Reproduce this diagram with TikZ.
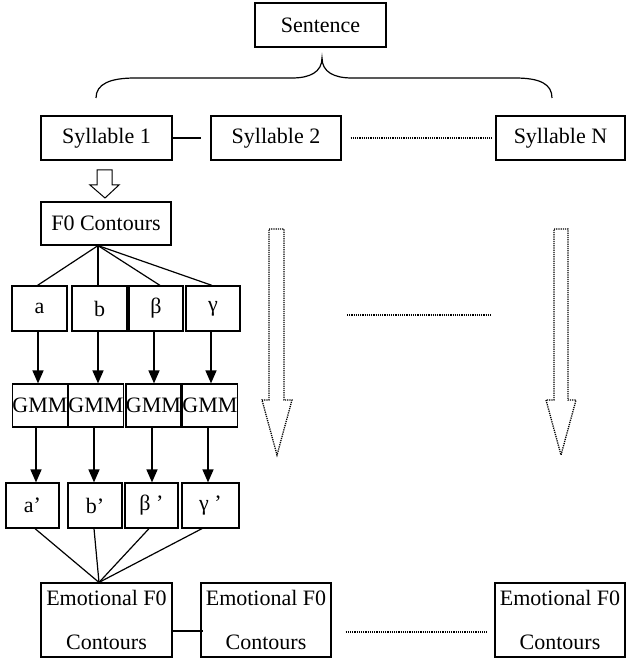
\documentclass[tikz,border=0pt]{standalone}
\usepackage{fontspec}
\setmainfont{Liberation Serif}
\usetikzlibrary{arrows.meta,calc}
\begin{document}
\begin{tikzpicture}[x=1pt,y=-1pt,
  box/.style={draw,line width=1.2pt,inner sep=0pt,font=\fontsize{22}{44}\selectfont,align=center},
  conn/.style={line width=1.2pt},
  arr/.style={line width=1.5pt,-{Triangle[length=13pt,width=11pt]}},
  dotline/.style={line width=1.3pt,dash pattern=on 1.2pt off 1pt},
  blockarrow/.style={line width=1pt,fill=white},
  dotarrow/.style={line width=1.3pt,dash pattern=on 1.2pt off 1pt},
]
\useasboundingbox (0,0) rectangle (625,660);

% top
\node[box,minimum width=131pt,minimum height=44pt] (sent) at (320.5,25) {Sentence};
\draw[conn] (96,98) .. controls (96,84) and (110,78) .. (135,78) -- (292,78)
  .. controls (310,78) and (322,72) .. (322,58)
  .. controls (322,72) and (334,78) .. (352,78) -- (515,78)
  .. controls (540,78) and (552,84) .. (552,98);

% syllables
\node[box,minimum width=131pt,minimum height=44pt] (syl1) at (106.5,138) {Syllable 1};
\node[box,minimum width=130pt,minimum height=44pt] (syl2) at (276,138) {Syllable 2};
\node[box,minimum width=129pt,minimum height=44pt] (sylN) at (560.5,138) {Syllable N};
\coordinate (s1end) at (201,138);
\draw[conn] (syl1.east) -- (s1end);
\draw[dotline,shorten <=9pt,shorten >=3pt] (syl2) -- (sylN);

% hollow arrow
\draw[blockarrow] (97,170) -- (112,170) -- (112,185) -- (119,185) -- (105,198) -- (90,185) -- (97,185) -- cycle;

\node[box,minimum width=130pt,minimum height=43pt] (f0) at (106,223.5) {F0 Contours};

% parameter boxes
\node[box,minimum width=55pt,minimum height=45pt] (a) at (39.5,308.5) {a};
\node[box,minimum width=55pt,minimum height=45pt] (b) at (99.5,308.5) {b};
\node[box,minimum width=54pt,minimum height=45pt] (be) at (156,308.5) {β};
\node[box,minimum width=54pt,minimum height=45pt] (ga) at (213,308.5) {γ};

\coordinate (f0s) at ([xshift=-8pt]f0.south);
\draw[conn] (f0s) -- ([xshift=-2pt]a.north);
\draw[conn] (f0s) -- ([xshift=-1.5pt]b.north);
\draw[conn] (f0s) -- ([xshift=4pt]be.north);
\draw[conn] (f0s) -- ([xshift=-1pt]ga.north);

% GMM boxes
\node[box,minimum width=54pt,minimum height=43pt] (g1) at (40,405.5) {GMM};
\node[box,minimum width=54pt,minimum height=43pt] (g2) at (96,405.5) {GMM};
\node[box,minimum width=53pt,minimum height=43pt] (g3) at (153.5,405.5) {GMM};
\node[box,minimum width=54pt,minimum height=43pt] (g4) at (210,405.5) {GMM};

\coordinate (a1) at ([xshift=-1.5pt]a.south);
\coordinate (b1) at ([xshift=-1.5pt]b.south);
\coordinate (be1) at ([xshift=-2pt]be.south);
\coordinate (ga1) at ([xshift=-2pt]ga.south);
\draw[arr] (a1) -- (a1 |- g1.north);
\draw[arr] (b1) -- (b1 |- g2.north);
\draw[arr] (be1) -- (be1 |- g3.north);
\draw[arr] (ga1) -- (ga1 |- g4.north);

% primed boxes
\node[box,minimum width=53pt,minimum height=45pt] (p1) at (32.5,505.5) {a’};
\node[box,minimum width=54pt,minimum height=45pt] (p2) at (95,505.5) {b’};
\node[box,minimum width=53pt,minimum height=45pt] (p3) at (151.5,505.5) {β ’};
\node[box,minimum width=57pt,minimum height=45pt] (p4) at (210.5,505.5) {γ ’};

\coordinate (g1s) at ([xshift=-4pt]g1.south);
\coordinate (g2s) at ([xshift=-2pt]g2.south);
\coordinate (g3s) at ([xshift=-1.5pt]g3.south);
\coordinate (g4s) at ([xshift=-2pt]g4.south);
\draw[arr] (g1s) -- (g1s |- p1.north);
\draw[arr] (g2s) -- (g2s |- p2.north);
\draw[arr] (g3s) -- (g3s |- p3.north);
\draw[arr] (g4s) -- (g4s |- p4.north);

% emotional boxes
\node[box,minimum width=131pt,minimum height=74pt] (emo1) at (106.5,620) {Emotional F0\\Contours};
\node[box,minimum width=130pt,minimum height=74pt] (emo2) at (266,620) {Emotional F0\\Contours};
\node[box,minimum width=130pt,minimum height=74pt] (emoN) at (560,620) {Emotional F0\\Contours};

\coordinate (e1n) at ([xshift=-7.5pt]emo1.north);
\draw[conn] ([xshift=2.5pt]p1.south) -- (e1n);
\draw[conn] ([xshift=-1pt]p2.south) -- (e1n);
\draw[conn] ([xshift=-2.5pt]p3.south) -- (e1n);
\draw[conn] ([xshift=-8.5pt]p4.south) -- (e1n);

\draw[conn] ([yshift=-11pt]emo1.east) -- ([xshift=3pt,yshift=-11pt]emo2.west);
\draw[dotline] ([xshift=14pt,yshift=-12pt]emo2.east) -- ([xshift=-7pt,yshift=-12pt]emoN.west);

% middle dotted line and dotted block arrows
\coordinate (m1) at (347,315);
\coordinate (m2) at (491,315);
\draw[dotline] (m1) -- (m2);
\draw[dotarrow] (269,229) -- (284,229) -- (284,400) -- (292,400) -- (277,455) -- (262,400) -- (269,400) -- cycle;
\draw[dotarrow] (554,229) -- (568,229) -- (568,400) -- (576,400) -- (561,455) -- (546,400) -- (554,400) -- cycle;
\end{tikzpicture}
\end{document}
